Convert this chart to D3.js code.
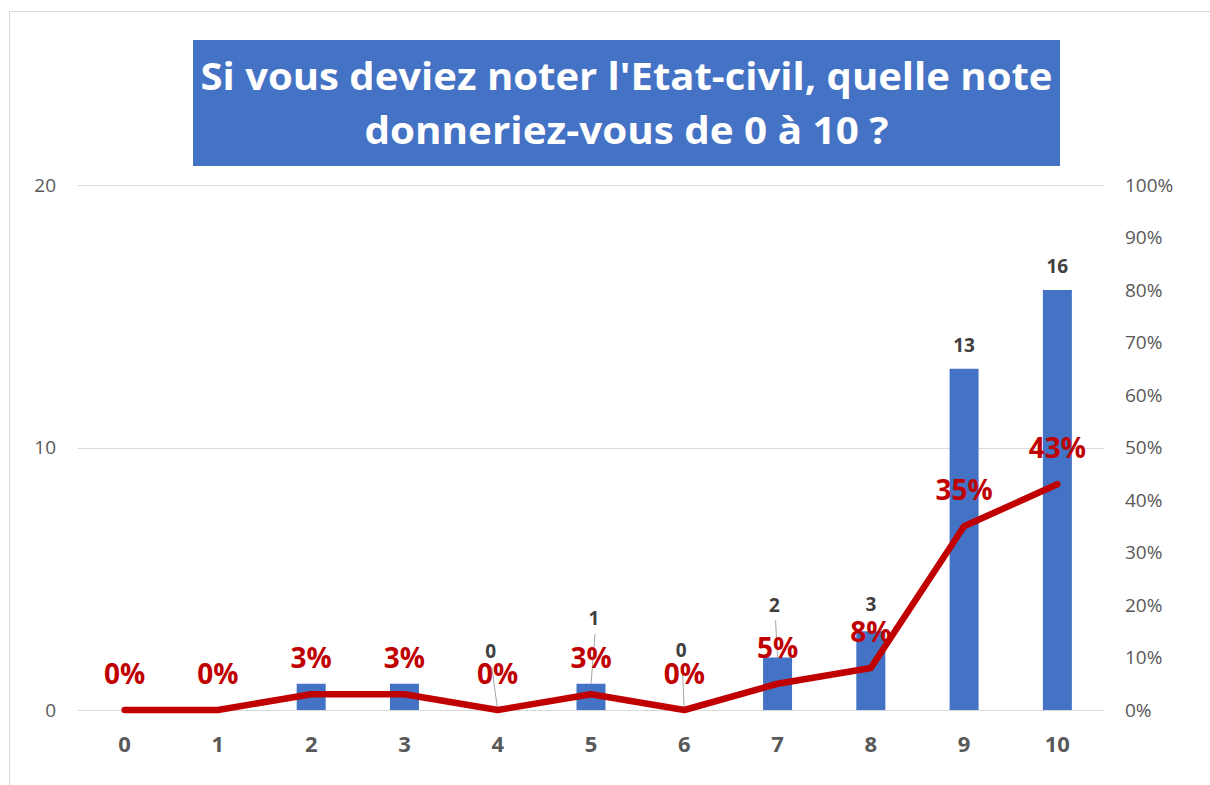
<!DOCTYPE html>
<html>
<head>
<meta charset="utf-8">
<script src="https://cdn.jsdelivr.net/npm/d3@7"></script>
<style>
  html, body { margin: 0; padding: 0; background: #ffffff; }
  svg { display: block; }
  text { font-family: "Open Sans", "Noto Sans", sans-serif; }
</style>
</head>
<body>
<svg id="chart" width="1210" height="785"></svg>
<script>
// ---- Data ----
const categories = ["0", "1", "2", "3", "4", "5", "6", "7", "8", "9", "10"];
const counts = [0, 0, 1, 1, 0, 1, 0, 2, 3, 13, 16];
const percents = [0, 0, 3, 3, 0, 3, 0, 5, 8, 35, 43];
const leftTicks = [0, 10, 20];
const rightTicks = [0, 10, 20, 30, 40, 50, 60, 70, 80, 90, 100];
const titleLines = ["Si vous deviez noter l'Etat-civil, quelle note", "donneriez-vous de 0 à 10 ?"];
// which count labels are visible (others hidden in the original)
const countLabelVisible = [false, false, false, false, true, true, true, true, true, true, true];

// ---- Layout ----
const svg = d3.select("#chart");
const plotLeft = 78, plotRight = 1104, plotTop = 185, plotBottom = 710;

// chart border
svg.append("rect").attr("x", 9.5).attr("y", 11.5).attr("width", 1300).attr("height", 900)
  .attr("fill", "none").attr("stroke", "#d9d9d9").attr("stroke-width", 1);

// title
const tb = { x: 193, y: 40, w: 867, h: 126 };
svg.append("rect").attr("x", tb.x).attr("y", tb.y).attr("width", tb.w).attr("height", tb.h).attr("fill", "#4472C4");
const titleWidths = [852, 524];
const titleBase = [90, 144];
titleLines.forEach((t, i) => {
  svg.append("text").attr("x", tb.x + tb.w / 2).attr("y", titleBase[i])
    .attr("text-anchor", "middle").attr("fill", "#ffffff").attr("font-weight", 700)
    .attr("font-size", 38).text(t)
    .attr("textLength", titleWidths[i]).attr("lengthAdjust", "spacingAndGlyphs");
});

// scales
const x = d3.scaleBand().domain(categories).range([plotLeft, plotRight]).paddingInner(0).paddingOuter(0);
const yL = d3.scaleLinear().domain([0, 20]).range([plotBottom, plotTop]);
const yR = d3.scaleLinear().domain([0, 100]).range([plotBottom, plotTop]);
const cx = c => x(c) + x.bandwidth() / 2;

// gridlines
svg.append("g").selectAll("line").data(leftTicks).join("line")
  .attr("x1", plotLeft).attr("x2", plotRight)
  .attr("y1", d => Math.round(yL(d)) + 0.5).attr("y2", d => Math.round(yL(d)) + 0.5)
  .attr("stroke", "#d9d9d9").attr("stroke-width", 1.2);

// left axis
const leftAxis = d3.axisLeft(yL).tickValues(leftTicks).tickSize(0).tickPadding(0);
const gl = svg.append("g").attr("transform", "translate(56,0)").call(leftAxis);
gl.select(".domain").remove();
gl.selectAll("text").attr("font-size", 19).attr("fill", "#595959").attr("font-family", "Open Sans");

// right axis
const rightAxis = d3.axisRight(yR).tickValues(rightTicks).tickSize(0).tickPadding(0).tickFormat(d => d + "%");
const gr = svg.append("g").attr("transform", "translate(1125,0)").call(rightAxis);
gr.select(".domain").remove();
gr.selectAll("text").attr("font-size", 19).attr("fill", "#595959").attr("font-family", "Open Sans");

// bottom axis
const bottomAxis = d3.axisBottom(x).tickSize(0).tickPadding(0);
const gb = svg.append("g").attr("transform", "translate(0,736)").call(bottomAxis);
gb.select(".domain").remove();
gb.selectAll("text").attr("font-size", 22).attr("font-weight", 700).attr("fill", "#595959").attr("font-family", "Open Sans");

// bars
const barW = 29;
svg.append("g").selectAll("rect").data(categories).join("rect")
  .attr("x", c => cx(c) - barW / 2)
  .attr("y", (c, i) => yL(counts[i]))
  .attr("width", barW)
  .attr("height", (c, i) => plotBottom - yL(counts[i]))
  .attr("fill", "#4472C4");

// count labels (some moved with leader lines, as in the original)
const labelMoves = { 4: [-7, -52], 5: [3, -59], 6: [-3, -53], 7: [-3, -46], 8: [0, -20] };
const leaderG = svg.append("g");
const countG = svg.append("g");
categories.forEach((c, i) => {
  if (!countLabelVisible[i]) return;
  const top = yL(counts[i]);
  const mv = labelMoves[i];
  const lx = cx(c) + (mv ? mv[0] : 0);
  const ly = top + (mv ? mv[1] : -17);
  if (mv && i !== 8) {
    leaderG.append("line").attr("x1", lx + 1).attr("y1", ly + 9).attr("x2", cx(c)).attr("y2", top)
      .attr("stroke", "#a6a6a6").attr("stroke-width", 1);
  }
  countG.append("text").attr("x", lx).attr("y", ly).attr("text-anchor", "middle")
    .attr("font-size", 19).attr("font-weight", 700).attr("fill", "#404040").text(counts[i]);
});

// line
const line = d3.line().x((d, i) => cx(categories[i])).y(d => yR(d));
svg.append("path").datum(percents).attr("d", line)
  .attr("fill", "none").attr("stroke", "#C00000").attr("stroke-width", 6.5)
  .attr("stroke-linejoin", "round").attr("stroke-linecap", "round");

// percent labels
svg.append("g").selectAll("text").data(percents).join("text")
  .attr("x", (d, i) => cx(categories[i]))
  .attr("y", d => yR(d) - 26)
  .attr("text-anchor", "middle").attr("font-size", 28).attr("font-weight", 700)
  .attr("fill", "#C00000").text(d => d + "%");
</script>
</body>
</html>
